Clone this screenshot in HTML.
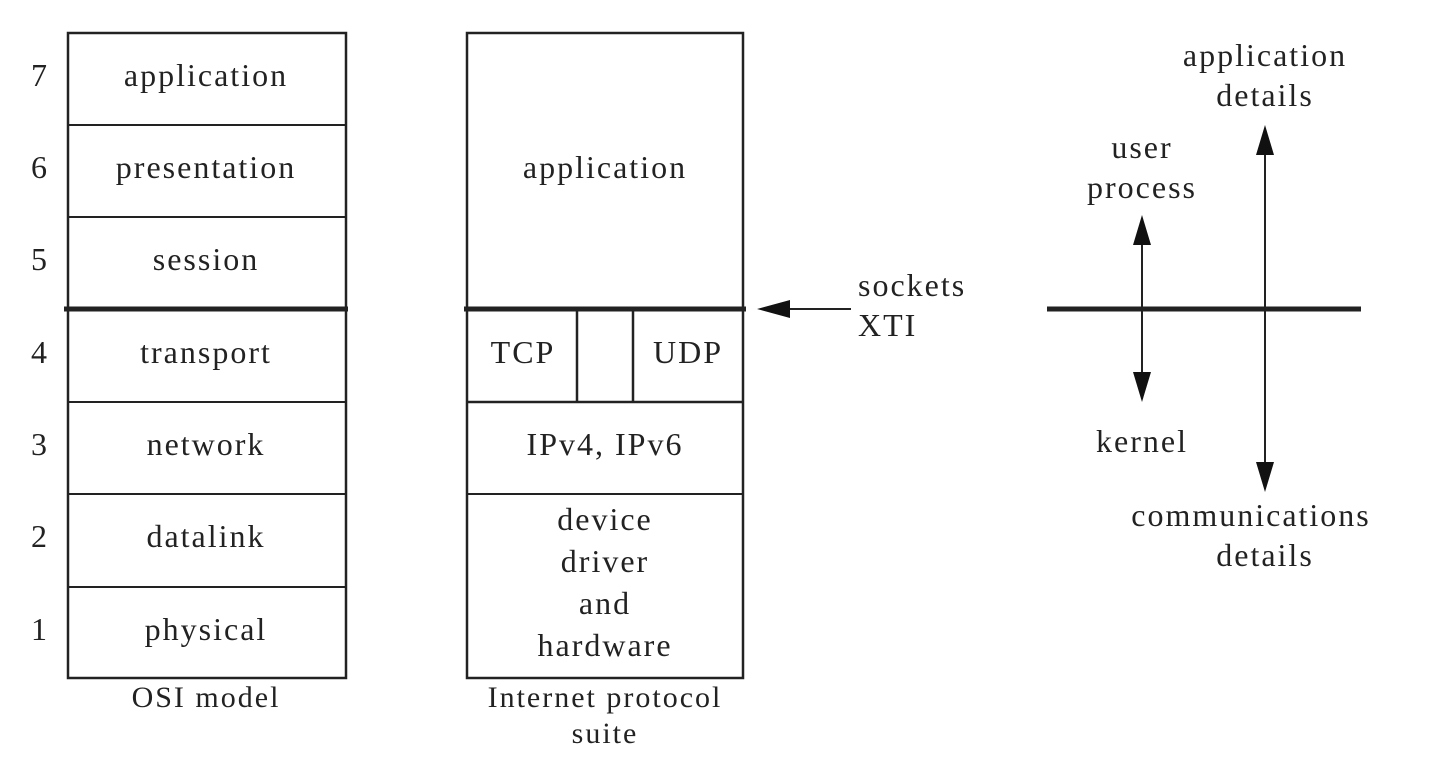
<!DOCTYPE html>
<html><head><style>
html,body{margin:0;padding:0;background:#fff;}
svg text{font-family:"Liberation Serif",serif;font-size:32px;letter-spacing:2px;fill:#222;text-anchor:middle;}
</style></head><body>
<svg width="1436" height="772" viewBox="0 0 1436 772" xmlns="http://www.w3.org/2000/svg">
<g stroke="#222" fill="none">
<rect x="68" y="33" width="278" height="645" stroke-width="2.5"/>
<line x1="68" y1="125" x2="346" y2="125" stroke-width="2"/>
<line x1="68" y1="217" x2="346" y2="217" stroke-width="2"/>
<line x1="68" y1="402" x2="346" y2="402" stroke-width="2"/>
<line x1="68" y1="494" x2="346" y2="494" stroke-width="2"/>
<line x1="68" y1="587" x2="346" y2="587" stroke-width="2"/>
<line x1="64" y1="309" x2="348" y2="309" stroke-width="5"/>
<rect x="467" y="33" width="276" height="645" stroke-width="2.5"/>
<line x1="467" y1="402" x2="743" y2="402" stroke-width="2.5"/>
<line x1="467" y1="494" x2="743" y2="494" stroke-width="2"/>
<line x1="577" y1="309" x2="577" y2="402" stroke-width="2.5"/>
<line x1="633" y1="309" x2="633" y2="402" stroke-width="2.5"/>
<line x1="464" y1="309" x2="746" y2="309" stroke-width="5"/>
<line x1="785" y1="309" x2="851" y2="309" stroke-width="2"/>
<line x1="1047" y1="309" x2="1361" y2="309" stroke-width="5"/>
<line x1="1142" y1="240" x2="1142" y2="378" stroke-width="2"/>
<line x1="1265" y1="150" x2="1265" y2="467" stroke-width="2"/>
</g>
<g fill="#111">
<polygon points="757,309 790,300 790,318"/>
<polygon points="1142,215 1133,245 1151,245"/>
<polygon points="1142,402 1133,372 1151,372"/>
<polygon points="1265,125 1256,155 1274,155"/>
<polygon points="1265,492 1256,462 1274,462"/>
</g>
<text x="40" y="86">7</text>
<text x="40" y="178">6</text>
<text x="40" y="270">5</text>
<text x="40" y="363">4</text>
<text x="40" y="455">3</text>
<text x="40" y="547">2</text>
<text x="40" y="640">1</text>
<text x="206" y="86">application</text>
<text x="206" y="178">presentation</text>
<text x="206" y="270">session</text>
<text x="206" y="363">transport</text>
<text x="206" y="455">network</text>
<text x="206" y="547">datalink</text>
<text x="206" y="640">physical</text>
<text x="206" y="707" style="font-size:30px">OSI model</text>
<text x="605" y="178">application</text>
<text x="523" y="363">TCP</text>
<text x="688" y="363">UDP</text>
<text x="605" y="455">IPv4, IPv6</text>
<text x="605" y="530">device</text>
<text x="605" y="572">driver</text>
<text x="605" y="614">and</text>
<text x="605" y="656">hardware</text>
<text x="605" y="707" style="font-size:30px">Internet protocol</text>
<text x="605" y="743" style="font-size:30px">suite</text>
<text x="858" y="296" style="text-anchor:start">sockets</text>
<text x="858" y="336" style="text-anchor:start">XTI</text>
<text x="1142" y="158">user</text>
<text x="1142" y="198">process</text>
<text x="1142" y="452">kernel</text>
<text x="1265" y="66">application</text>
<text x="1265" y="106">details</text>
<text x="1251" y="526">communications</text>
<text x="1265" y="566">details</text>
</svg>
</body></html>
